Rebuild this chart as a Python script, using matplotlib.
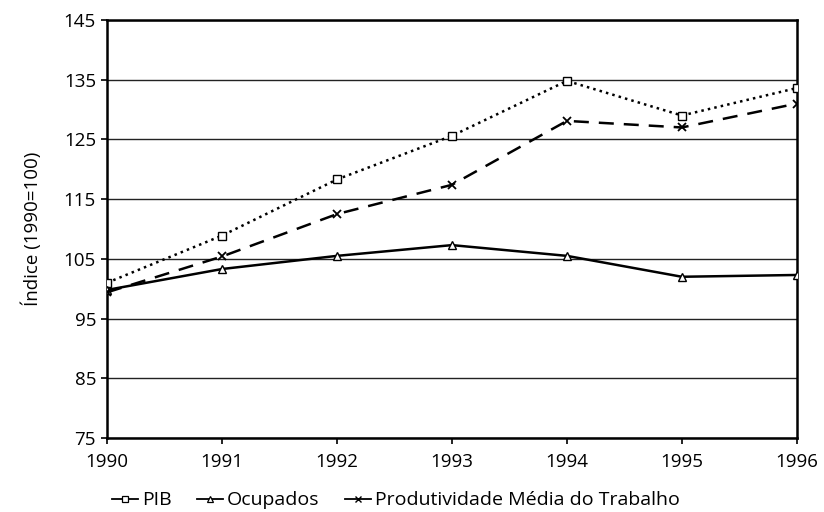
import matplotlib
matplotlib.use("Agg")
import matplotlib.pyplot as plt
from matplotlib.lines import Line2D

plt.rcParams['font.family'] = ['Open Sans', 'DejaVu Sans']

years = [1990, 1991, 1992, 1993, 1994, 1995, 1996]
pib = [101.0, 108.9, 118.3, 125.6, 134.8, 129.0, 133.6]
ocupados = [99.8, 103.3, 105.5, 107.3, 105.5, 102.0, 102.3]
produtividade = [99.4, 105.4, 112.5, 117.4, 128.1, 127.0, 131.0]
yticks = [75, 85, 95, 105, 115, 125, 135, 145]
labels = ['PIB', 'Ocupados', 'Produtividade Média do Trabalho']

fig = plt.figure(figsize=(8.24, 5.12), dpi=100)
ax = fig.add_axes([0.130, 0.1445, 0.837, 0.8165])

for y in yticks:
    ax.axhline(y, color='#222222', lw=1.0, zorder=1)

ax.plot(years, pib, color='black', ls=':', lw=1.8, marker='s', ms=6,
        mfc='white', mec='black', mew=1.0, zorder=3)
ax.plot(years, ocupados, color='black', ls='-', lw=1.8, marker='^', ms=6,
        mfc='white', mec='black', mew=1.0, zorder=3)
ax.plot(years, produtividade, color='black', ls=(0, (6, 4)), lw=1.8, marker='x', ms=6,
        mec='black', mew=1.3, zorder=3)

ax.set_xlim(1990, 1996)
ax.set_ylim(75, 145)
ax.set_xticks(years)
ax.set_yticks(yticks)
ax.tick_params(axis='both', labelsize=13.5, length=4, width=1.2, color='black')
ax.tick_params(axis='x', pad=7)
ax.tick_params(axis='y', pad=4)
for s in ax.spines.values():
    s.set_linewidth(1.8)
    s.set_color('black')
ax.set_ylabel('Índice (1990=100)', fontsize=13.5, labelpad=16)

handles = [
    Line2D([], [], color='black', lw=1.3, marker='s', ms=4.5, mfc='white', mec='black', mew=0.9),
    Line2D([], [], color='black', lw=1.3, marker='^', ms=4.5, mfc='white', mec='black', mew=0.9),
    Line2D([], [], color='black', lw=1.3, marker='x', ms=4.5, mec='black', mew=1.0),
]
fig.legend(handles=handles, labels=labels, loc='lower left', bbox_to_anchor=(0.136, 0.005),
           ncol=3, frameon=False, fontsize=14, handlelength=1.35, borderpad=0,
           borderaxespad=0, handletextpad=0.2, columnspacing=1.3)

fig.savefig('out.png', dpi=100)
